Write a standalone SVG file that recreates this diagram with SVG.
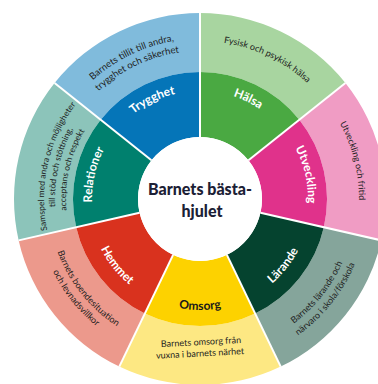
<svg xmlns="http://www.w3.org/2000/svg" xmlns:xlink="http://www.w3.org/1999/xlink" width="378" height="384" viewBox="0 0 378 384">
<style>
.lbl{font-family:Lato,"Open Sans","DejaVu Sans",sans-serif;font-weight:700;font-size:12px;fill:#ffffff}
.dsc{font-family:Lato,"Open Sans","DejaVu Sans",sans-serif;font-weight:400;font-size:9px;fill:#1e1e1e}
.ctr{font-family:Lato,"Open Sans","DejaVu Sans",sans-serif;font-weight:900;font-size:16px;fill:#1b2035}
.sep{stroke:#ffffff;stroke-width:2;fill:none}
</style>
<defs>
<path id="t108" d="M130.58,116.27 A108,108 0 0 1 269.42,116.27"/>
<path id="t160" d="M97.15,76.43 A160,160 0 0 1 302.85,76.43"/>
<path id="t148" d="M104.87,85.63 A148,148 0 0 1 295.13,85.63"/>
<path id="t158" d="M98.44,77.97 A158,158 0 0 1 301.56,77.97"/>
<path id="t159" d="M97.80,77.20 A159,159 0 0 1 302.20,77.20"/>
<path id="t156" d="M99.72,79.50 A156,156 0 0 1 300.28,79.50"/>
<path id="t145" d="M106.80,87.92 A145,145 0 0 1 293.20,87.92"/>
<path id="t134" d="M113.87,96.35 A134,134 0 0 1 286.13,96.35"/>
<path id="b111" d="M128.65,284.03 A111,111 0 0 0 271.35,284.03"/>
<path id="b156" d="M99.72,318.50 A156,156 0 0 0 300.28,318.50"/>
<path id="b168" d="M92.01,327.69 A168,168 0 0 0 307.99,327.69"/>
<path id="b152" d="M102.30,315.44 A152,152 0 0 0 297.70,315.44"/>
<path id="b164" d="M94.58,324.63 A164,164 0 0 0 305.42,324.63"/>
</defs>
<rect width="378" height="384" fill="#ffffff"/>

<g id="trygghet">
<path d="M100.71,119.82 L54.58,83.03 A186,186 0 0 1 200,13 L200,72 A127,127 0 0 0 100.71,119.82 Z" fill="#80bbdc"/>
<path d="M151.45,160.34 L100.71,119.82 A127,127 0 0 1 200,72 L200,137 A62,62 0 0 0 151.45,160.34 Z" fill="#0575b8"/>
<text class="lbl" transform="rotate(-25.714 200 199)"><textPath xlink:href="#t108" href="#t108" startOffset="50%" text-anchor="middle">Trygghet</textPath></text>
<text class="dsc" style="font-size:9.5px" transform="rotate(-25.714 200 199)"><textPath xlink:href="#t160" href="#t160" startOffset="50%" text-anchor="middle">Barnets tillit till andra,</textPath></text>
<text class="dsc" style="font-size:9.5px" transform="rotate(-25.714 200 199)"><textPath xlink:href="#t148" href="#t148" startOffset="50%" text-anchor="middle">trygghet och säkerhet</textPath></text>
</g>

<g id="halsa">
<path d="M200,72 L200,13 A186,186 0 0 1 345.42,83.03 L299.29,119.82 A127,127 0 0 0 200,72 Z" fill="#a8d5a0"/>
<path d="M200,137 L200,72 A127,127 0 0 1 299.29,119.82 L248.47,160.34 A62,62 0 0 0 200,137 Z" fill="#4aa942"/>
<text class="lbl" transform="rotate(25.714 200 199)"><textPath xlink:href="#t108" href="#t108" startOffset="50%" text-anchor="middle">Hälsa</textPath></text>
<text class="dsc" transform="rotate(25.714 200 199)"><textPath xlink:href="#t158" href="#t158" startOffset="50%" text-anchor="middle">Fysisk och psykisk hälsa</textPath></text>
</g>

<g id="utveckling">
<path d="M299.29,119.82 L345.42,83.03 A186,186 0 0 1 381.34,240.39 L323.82,227.26 A127,127 0 0 0 299.29,119.82 Z" fill="#f09cc4"/>
<path d="M248.47,160.34 L299.29,119.82 A127,127 0 0 1 323.82,227.26 L260.45,212.80 A62,62 0 0 0 248.47,160.34 Z" fill="#e0328b"/>
<text class="lbl" transform="rotate(77.143 200 199)"><textPath xlink:href="#t108" href="#t108" startOffset="50%" text-anchor="middle">Utveckling</textPath></text>
<text class="dsc" transform="rotate(76 200 199)"><textPath xlink:href="#t159" href="#t159" startOffset="50%" text-anchor="middle">Utveckling och fritid</textPath></text>
</g>

<g id="larande">
<path d="M323.82,227.26 L381.34,240.39 A186,186 0 0 1 280.70,366.58 L255.10,313.42 A127,127 0 0 0 323.82,227.26 Z" fill="#85a59b"/>
<path d="M260.45,212.80 L323.82,227.26 A127,127 0 0 1 255.10,313.42 L226.90,254.86 A62,62 0 0 0 260.45,212.80 Z" fill="#05432f"/>
<text class="lbl" transform="rotate(-51.429 200 199)"><textPath xlink:href="#b111" href="#b111" startOffset="50%" text-anchor="middle">Lärande</textPath></text>
<text class="dsc" transform="rotate(-51.429 200 199)"><textPath xlink:href="#b156" href="#b156" startOffset="50%" text-anchor="middle">Barnets lärande och</textPath></text>
<text class="dsc" transform="rotate(-51.429 200 199)"><textPath xlink:href="#b168" href="#b168" startOffset="50%" text-anchor="middle">närvaro i skola/förskola</textPath></text>
</g>

<g id="omsorg">
<path d="M255.10,313.42 L280.70,366.58 A186,186 0 0 1 119.30,366.58 L144.90,313.42 A127,127 0 0 0 255.10,313.42 Z" fill="#fde883"/>
<path d="M226.90,254.86 L255.10,313.42 A127,127 0 0 1 144.90,313.42 L173.10,254.86 A62,62 0 0 0 226.90,254.86 Z" fill="#fdd200"/>
<text class="lbl" style="fill:#1a1a1a"><textPath xlink:href="#b111" href="#b111" startOffset="50%" text-anchor="middle">Omsorg</textPath></text>
<text class="dsc" x="201" y="345" text-anchor="middle" transform="rotate(-3 201 342)">Barnets omsorg från</text>
<text class="dsc" x="200" y="356.5" text-anchor="middle" transform="rotate(-3 200 353)">vuxna i barnets närhet</text>
</g>

<g id="hemmet">
<path d="M144.90,313.42 L119.30,366.58 A186,186 0 0 1 18.66,240.39 L76.18,227.26 A127,127 0 0 0 144.90,313.42 Z" fill="#ec998c"/>
<path d="M173.10,254.86 L144.90,313.42 A127,127 0 0 1 76.18,227.26 L139.55,212.80 A62,62 0 0 0 173.10,254.86 Z" fill="#d9321e"/>
<text class="lbl" transform="rotate(51.429 200 199)"><textPath xlink:href="#b111" href="#b111" startOffset="50%" text-anchor="middle">Hemmet</textPath></text>
<text class="dsc" transform="rotate(51.429 200 199)"><textPath xlink:href="#b152" href="#b152" startOffset="50%" text-anchor="middle">Barnets boendesituation</textPath></text>
<text class="dsc" transform="rotate(51.429 200 199)"><textPath xlink:href="#b164" href="#b164" startOffset="50%" text-anchor="middle">och levnadsvillkor</textPath></text>
</g>

<g id="relationer">
<path d="M76.18,227.26 L18.66,240.39 A186,186 0 0 1 54.58,83.03 L100.71,119.82 A127,127 0 0 0 76.18,227.26 Z" fill="#8cc4ba"/>
<path d="M139.55,212.80 L76.18,227.26 A127,127 0 0 1 100.71,119.82 L151.45,160.34 A62,62 0 0 0 139.55,212.80 Z" fill="#00806e"/>
<text class="lbl" transform="rotate(-77.143 200 199)"><textPath xlink:href="#t108" href="#t108" startOffset="50%" text-anchor="middle">Relationer</textPath></text>
<text class="dsc" style="font-size:8.5px" transform="rotate(-77.143 200 199)"><textPath xlink:href="#t156" href="#t156" startOffset="50%" text-anchor="middle">Samspel med andra och möjligheter</textPath></text>
<text class="dsc" style="font-size:8.5px" transform="rotate(-77.143 200 199)"><textPath xlink:href="#t145" href="#t145" startOffset="50%" text-anchor="middle">till stöd och stöttning,</textPath></text>
<text class="dsc" style="font-size:8.5px" transform="rotate(-77.143 200 199)"><textPath xlink:href="#t134" href="#t134" startOffset="50%" text-anchor="middle">acceptans och respekt</textPath></text>
</g>

<g id="connectors">
<line class="sep" x1="200" y1="137" x2="200" y2="13"/>
<line class="sep" x1="248.47" y1="160.34" x2="345.42" y2="83.03"/>
<line class="sep" x1="260.45" y1="212.80" x2="381.34" y2="240.39"/>
<line class="sep" x1="226.90" y1="254.86" x2="280.70" y2="366.58"/>
<line class="sep" x1="173.10" y1="254.86" x2="119.30" y2="366.58"/>
<line class="sep" x1="139.55" y1="212.80" x2="18.66" y2="240.39"/>
<line class="sep" x1="151.45" y1="160.34" x2="54.58" y2="83.03"/>
</g>

<g id="center">
<circle cx="200" cy="199" r="62" fill="#ffffff"/>
<text class="ctr" x="200" y="195" text-anchor="middle">Barnets bästa-</text>
<text class="ctr" x="202" y="217" text-anchor="middle">hjulet</text>
</g>
</svg>
